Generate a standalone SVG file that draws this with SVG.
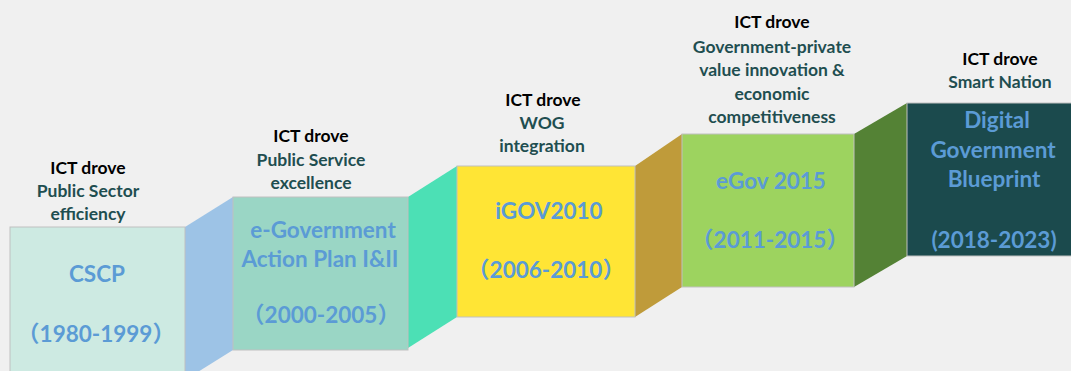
<svg xmlns="http://www.w3.org/2000/svg" width="1071" height="371" viewBox="0 0 1071 371">
<style>
.bg{fill:#f0f0f0}
.box{stroke:#c0c0c0;stroke-width:1}
.lbl{font-family:Lato,"Liberation Sans",sans-serif;font-weight:bold;font-size:17.5px;text-anchor:middle}
.k{fill:#000}
.t{fill:#1f4e50}
.m{font-family:Lato,"Liberation Sans","Noto Sans CJK SC",sans-serif;font-weight:bold;font-size:22.5px;text-anchor:middle;fill:#5b9bd5}
</style>
<rect class="bg" x="0" y="0" width="1071" height="371"/>
<g id="connectors">
<polygon points="185,227 233,197 233,350 185,380" fill="#9dc3e6"/>
<polygon points="408,197 457,166 457,317 408,348" fill="#4ce0b5"/>
<polygon points="635,166 682,134 682,287 635,317" fill="#bf9b3a"/>
<polygon points="854,134 907,103 907,256 854,287" fill="#548235"/>
</g>
<g id="node1">
<rect class="box" x="10" y="227" width="175" height="160" fill="#cdeae2"/>
<text class="lbl k" x="88" y="174">ICT drove</text>
<text class="lbl t" x="88" y="197">Public Sector</text>
<text class="lbl t" x="88" y="220">efficiency</text>
<text class="m" x="97" y="282">CSCP</text>
<text class="m" x="96" y="342">（1980-1999）</text>
</g>
<g id="node2">
<rect class="box" x="233" y="197" width="175" height="153" fill="#9ad6c5"/>
<text class="lbl k" x="311" y="142">ICT drove</text>
<text class="lbl t" x="311" y="166">Public Service</text>
<text class="lbl t" x="311" y="189">excellence</text>
<text class="m" x="323" y="238">e-Government</text>
<text class="m" x="320" y="267">Action Plan I&amp;II</text>
<text class="m" x="321" y="323">（2000-2005）</text>
</g>
<g id="node3">
<rect class="box" x="457" y="166" width="178" height="151" fill="#ffe535"/>
<text class="lbl k" x="543" y="106">ICT drove</text>
<text class="lbl t" x="542" y="129">WOG</text>
<text class="lbl t" x="542" y="152">integration</text>
<text class="m" x="549" y="219">iGOV2010</text>
<text class="m" x="546" y="278">（2006-2010）</text>
</g>
<g id="node4">
<rect class="box" x="682" y="134" width="172" height="153" fill="#9dd35f"/>
<text class="lbl k" x="772" y="28">ICT drove</text>
<text class="lbl t" x="772" y="53">Government-private</text>
<text class="lbl t" x="772" y="76">value innovation &amp;</text>
<text class="lbl t" x="772" y="100">economic</text>
<text class="lbl t" x="772" y="123">competitiveness</text>
<text class="m" x="771" y="189">eGov 2015</text>
<text class="m" x="770" y="248">（2011-2015）</text>
</g>
<g id="node5">
<rect class="box" x="907" y="103" width="170" height="153" fill="#1b4a4d"/>
<text class="lbl k" x="1000" y="65">ICT drove</text>
<text class="lbl t" x="1000" y="88">Smart Nation</text>
<text class="m" x="997" y="128">Digital</text>
<text class="m" x="993" y="158">Government</text>
<text class="m" x="994" y="187">Blueprint</text>
<text class="m" x="994" y="248">(2018-2023)</text>
</g>
</svg>
